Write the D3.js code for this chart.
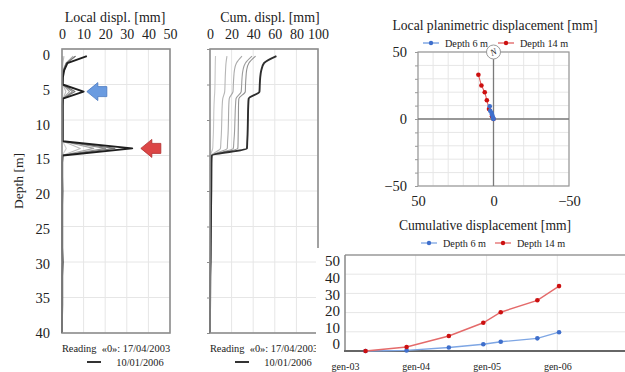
<!DOCTYPE html>
<html>
<head>
<meta charset="utf-8">
<script src="https://cdn.jsdelivr.net/npm/d3@7"></script>
<style>
  body { margin: 0; background: #fff; }
  svg { display: block; fill: #222; }
  svg text { font-family: "Liberation Serif", "Times New Roman", serif; }
  .domain { display: none; }
</style>
</head>
<body>
<svg id="chart" width="625" height="372"></svg>
<script>
// depths of the inclinometer readings [m]
const depths = [1, 2, 3, 4, 5, 6, 7, 8, 10, 12, 13, 14, 15, 16, 18, 20, 22, 24, 26, 28, 30, 32, 34, 36, 38, 40];

// local displacement per reading [mm], one value per depth (reading 0 = 17/04/2003)
const local1 = [0.2, 0.1, 0.1, 0.1, 0.2, 0.4, 0.3, 0.3, 0.3, 0.3, 0.3, 2.0, 0.1, 0.1, 0.0, 0.1, 0.0, 0.1, 0.0, 0.0, 0.1, 0.0, 0.0, 0.0, 0.0, 0.0];
const local2 = [0.9, 0.4, 0.3, 0.2, 0.3, 1.8, 0.5, 0.4, 0.4, 0.4, 0.4, 8.5, 0.2, 0.1, 0.1, 0.1, 0.1, 0.1, 0.1, 0.1, 0.2, 0.1, 0.0, 0.0, 0.0, 0.0];
const local3 = [5.2, 1.8, 0.6, 0.4, 0.3, 3.5, 0.4, 0.3, 0.4, 0.4, 0.3, 14.7, 0.2, 0.1, 0.1, 0.1, 0.1, 0.1, 0.1, 0.1, 0.2, 0.1, 0.1, 0.0, 0.0, 0.0];
const local4 = [6.2, 2.2, 0.8, 0.4, 0.4, 4.8, 0.5, 0.5, 0.5, 0.5, 0.5, 20.2, 0.2, 0.1, 0.1, 0.1, 0.1, 0.1, 0.1, 0.1, 0.2, 0.1, 0.1, 0.1, 0.0, 0.0];
const local5 = [6.3, 2.0, 0.6, 0.4, 0.2, 6.0, 0.3, 0.1, 0.2, 0.1, 0.2, 24.5, 0.2, 0.1, 0.1, 0.1, 0.1, 0.1, 0.1, 0.1, 0.2, 0.1, 0.1, 0.0, 0.0, 0.0];
const local6 = [11.5, 2.5, 1.0, 0.4, 0.3, 10.0, 0.4, 0.3, 0.3, 0.3, 0.3, 32.5, 0.3, 0.1, 0.1, 0.2, 0.1, 0.1, 0.1, 0.1, 0.3, 0.1, 0.1, 0.1, 0.0, 0.0];
const readings = [local1, local2, local3, local4, local5, local6];

const localColors = ['#d2d2d2', '#bdbdbd', '#a6a6a6', '#8e8e8e', '#767676', '#1e1e1e'];
const cumColors = ['#c6c6c6', '#b6b6b6', '#a9a9a9', '#9d9d9d', '#929292', '#2e2e2e'];

// planimetric displacement (x positive to the left, y up) [mm]
const plan6X = [0, 0.1, 0.5, 1.0, 1.3, 2.2, 2.5];
const plan6Y = [0, 0.3, 1.7, 3.4, 4.6, 6.2, 9.5];
const plan14X = [0, 1.0, 3.0, 4.4, 5.8, 8.0, 10.0];
const plan14Y = [0, 2.0, 7.5, 14.0, 20.0, 25.0, 33.0];

// cumulative displacement over time [mm]
const readDates = ['2003-04-17', '2003-11-15', '2004-06-20', '2004-12-15', '2005-03-15', '2005-09-20', '2006-01-10'];
const disp6 = [0, 0.3, 1.8, 3.5, 4.8, 6.6, 9.8];
const disp14 = [0, 2.1, 7.8, 14.7, 20.2, 26.4, 33.8];

const svg = d3.select('#chart');
const gridColor = '#e6e6e6';
const frameColor = '#8c8c8c';

// axis text: serif, dark, custom size
const styleTicks = size => s => {
  s.attr('font-family', null).attr('font-size', null);
  s.selectAll('text').attr('font-size', size).attr('fill', '#222');
};

// ---------- depth profiles ----------
const yD = d3.scaleLinear().domain([0, 40]).range([49, 333]);
const yDLab = d3.scaleLinear().domain([0, 40]).range([55, 333]);
const xL = d3.scaleLinear().domain([0, 50]).range([62, 170]);
const xC = d3.scaleLinear().domain([0, 100]).range([210, 318]);

function profilePanel(x, title, titleX, profiles, colors, curve) {
  const g = svg.append('g');
  const [x0, x1] = x.range();
  g.append('g').selectAll('line').data(x.ticks(5)).join('line')
    .attr('x1', d => x(d)).attr('x2', d => x(d))
    .attr('y1', yD(0)).attr('y2', yD(40))
    .attr('stroke', gridColor);
  g.append('g').selectAll('line').data(yD.ticks(8)).join('line')
    .attr('x1', x0).attr('x2', x1)
    .attr('y1', d => yD(d)).attr('y2', d => yD(d))
    .attr('stroke', gridColor);

  const line = d3.line().curve(curve)
    .x(d => x(d[1])).y(d => yD(d[0]));
  profiles.forEach((p, i) => {
    g.append('path')
      .datum(depths.map((d, j) => [d, p[j]]))
      .attr('fill', 'none')
      .attr('stroke', colors[i])
      .attr('stroke-width', i === profiles.length - 1 ? 1.9 : 1.1)
      .attr('stroke-linejoin', 'round')
      .attr('d', line);
  });

  g.append('rect')
    .attr('x', x0).attr('y', yD(0))
    .attr('width', x1 - x0).attr('height', yD(40) - yD(0))
    .attr('fill', 'none').attr('stroke', frameColor).attr('stroke-width', 1.6);

  g.append('g').attr('transform', `translate(0,${yD(0)})`)
    .call(d3.axisTop(x).ticks(5).tickSize(0).tickPadding(10))
    .call(styleTicks(14));

  g.append('text').attr('x', titleX).attr('y', 17).attr('dy', '0.35em')
    .attr('text-anchor', 'middle').attr('font-size', 14).text(title);

  const cx = (x0 + x1) / 2;
  g.append('text').attr('x', cx).attr('y', 348).attr('dy', '0.35em')
    .attr('text-anchor', 'middle').attr('font-size', 10.4)
    .attr('xml:space', 'preserve').text('Reading  «0»: 17/04/2003');
  g.append('line').attr('x1', cx - 29).attr('x2', cx - 15).attr('y1', 362).attr('y2', 362)
    .attr('stroke', '#333').attr('stroke-width', 2);
  g.append('text').attr('x', cx + 24).attr('y', 362).attr('dy', '0.35em')
    .attr('text-anchor', 'middle').attr('font-size', 10.4).text('10/01/2006');
  return g;
}

const gLocal = profilePanel(xL, 'Local displ. [mm]', 115, readings, localColors, d3.curveLinear);

gLocal.append('g').attr('transform', `translate(${xL(0)},0)`)
  .call(d3.axisLeft(yDLab).tickValues(yD.ticks(8)).tickSize(0).tickPadding(12))
  .call(styleTicks(14.5));

svg.append('text')
  .attr('transform', 'translate(18,181) rotate(-90)')
  .attr('text-anchor', 'middle').attr('dy', '0.35em')
  .attr('font-size', 13.5).text('Depth [m]');

// arrows pointing at the two sliding surfaces
function arrow(tipX, tipY, fill, stroke) {
  const p = d3.path();
  p.moveTo(tipX, tipY);
  p.lineTo(tipX + 11, tipY - 9);
  p.lineTo(tipX + 11, tipY - 5);
  p.lineTo(tipX + 20, tipY - 5);
  p.lineTo(tipX + 20, tipY + 5);
  p.lineTo(tipX + 11, tipY + 5);
  p.lineTo(tipX + 11, tipY + 9);
  p.closePath();
  svg.append('path').attr('d', p.toString())
    .attr('fill', fill).attr('stroke', stroke).attr('stroke-width', 0.8);
}
arrow(xL(11.5), yD(6), '#6a9be0', '#4a78c0');
arrow(xL(36.5), yD(14), '#dc4646', '#b02e2e');

// cumulative profile: sum of local displacements from the bottom up
const cumProfiles = readings.map(p => Array.from(d3.cumsum(p.slice().reverse())).reverse());
const gCum = profilePanel(xC, 'Cum. displ. [mm]', 270, cumProfiles, cumColors, d3.curveMonotoneY);
gCum.append('g').attr('transform', `translate(${xC(0)},0)`)
  .call(d3.axisLeft(yD).ticks(8).tickSize(3).tickFormat(''))
  .call(s => s.selectAll('line').attr('stroke', frameColor));

// ---------- planimetric displacement ----------
const xP = d3.scaleLinear().domain([50, -50]).range([418, 569]);
const yP = d3.scaleLinear().domain([50, -50]).range([52, 186]);
const gP = svg.append('g');
gP.append('g').selectAll('line').data(xP.ticks(10)).join('line')
  .attr('x1', d => xP(d)).attr('x2', d => xP(d)).attr('y1', yP(50)).attr('y2', yP(-50))
  .attr('stroke', gridColor);
gP.append('g').selectAll('line').data(yP.ticks(10)).join('line')
  .attr('x1', xP(50)).attr('x2', xP(-50)).attr('y1', d => yP(d)).attr('y2', d => yP(d))
  .attr('stroke', gridColor);
gP.append('rect')
  .attr('x', xP(50)).attr('y', yP(50))
  .attr('width', xP(-50) - xP(50)).attr('height', yP(-50) - yP(50))
  .attr('fill', 'none').attr('stroke', '#999').attr('stroke-width', 1.2);
gP.append('line').attr('x1', xP(0)).attr('x2', xP(0)).attr('y1', yP(50)).attr('y2', yP(-50))
  .attr('stroke', '#7a7a7a').attr('stroke-width', 1.3);
gP.append('line').attr('x1', xP(50)).attr('x2', xP(-50)).attr('y1', yP(0)).attr('y2', yP(0))
  .attr('stroke', '#7a7a7a').attr('stroke-width', 1.3);
gP.append('g').attr('transform', `translate(${xP(50)},0)`)
  .call(d3.axisLeft(yP).ticks(10).tickSize(3).tickFormat(''))
  .call(s => s.selectAll('line').attr('stroke', '#999'));
gP.append('g').attr('transform', `translate(${xP(50)},0)`)
  .call(d3.axisLeft(yP).tickValues([50, 0, -50]).tickSize(0).tickPadding(11))
  .call(styleTicks(14.5));
gP.append('g').attr('transform', `translate(0,${yP(-50)})`)
  .call(d3.axisBottom(xP).tickValues([50, 0, -50]).tickSize(0).tickPadding(10))
  .call(styleTicks(14.5));

function planSeries(xs, ys, lineColor, dotColor) {
  const pts = xs.map((v, i) => [v, ys[i]]);
  gP.append('path').datum(pts)
    .attr('fill', 'none').attr('stroke', lineColor).attr('stroke-width', 1.1)
    .attr('d', d3.line().x(d => xP(d[0])).y(d => yP(d[1])));
  gP.append('g').selectAll('circle').data(pts).join('circle')
    .attr('cx', d => xP(d[0])).attr('cy', d => yP(d[1])).attr('r', 2.3)
    .attr('fill', dotColor);
}
planSeries(plan14X, plan14Y, '#e06060', '#cc1010');
planSeries(plan6X, plan6Y, '#6f9be0', '#3f6fcc');

// north marker
gP.append('circle').attr('cx', xP(0)).attr('cy', yP(50)).attr('r', 7)
  .attr('fill', '#fff').attr('stroke', '#999').attr('stroke-width', 1);
gP.append('text').attr('x', xP(0)).attr('y', yP(50)).attr('dy', '0.35em')
  .attr('text-anchor', 'middle').attr('font-size', 9).attr('font-style', 'italic')
  .attr('transform', `rotate(-25,${xP(0)},${yP(50)})`).text('N');

svg.append('text').attr('x', 495).attr('y', 25).attr('dy', '0.35em')
  .attr('text-anchor', 'middle').attr('font-size', 13.6)
  .text('Local planimetric displacement [mm]');

function legend(x, y, items) {
  items.forEach(it => {
    svg.append('line').attr('x1', x + it.dx).attr('x2', x + it.dx + 16).attr('y1', y).attr('y2', y)
      .attr('stroke', it.line).attr('stroke-width', 1.3);
    svg.append('circle').attr('cx', x + it.dx + 8).attr('cy', y).attr('r', 2.2).attr('fill', it.dot);
    svg.append('text').attr('x', x + it.dx + 22).attr('y', y).attr('dy', '0.35em')
      .attr('font-size', 10.2).text(it.label);
  });
}
legend(423, 43, [
  { dx: 0, label: 'Depth 6 m', line: '#6f9be0', dot: '#3f6fcc' },
  { dx: 75, label: 'Depth 14 m', line: '#e06060', dot: '#cc1010' }
]);

// ---------- cumulative displacement over time ----------
svg.append('rect').attr('x', 316).attr('y', 248).attr('width', 309).attr('height', 124).attr('fill', '#fff');

const parse = d3.timeParse('%Y-%m-%d');
const xT = d3.scaleTime().domain([new Date(2003, 0, 1), new Date(2007, 0, 1)]).range([345, 628]);
const yT = d3.scaleLinear().domain([0, 50]).range([351, 255]);
const yTLab = d3.scaleLinear().domain([0, 50]).range([344, 261]);
const years = d3.timeYear.range(new Date(2003, 0, 1), new Date(2007, 0, 1));
const gT = svg.append('g');

gT.append('g').selectAll('line').data(years.slice(1)).join('line')
  .attr('x1', d => xT(d)).attr('x2', d => xT(d)).attr('y1', yT(50)).attr('y2', yT(0))
  .attr('stroke', gridColor);
gT.append('g').selectAll('line').data(yT.ticks(5).slice(1, -1)).join('line')
  .attr('x1', xT.range()[0]).attr('x2', 625).attr('y1', d => yT(d)).attr('y2', d => yT(d))
  .attr('stroke', gridColor);
gT.append('line').attr('x1', xT.range()[0]).attr('x2', 625).attr('y1', yT(50)).attr('y2', yT(50))
  .attr('stroke', '#999').attr('stroke-width', 1.3);
gT.append('line').attr('x1', xT.range()[0]).attr('x2', xT.range()[0]).attr('y1', yT(50)).attr('y2', yT(0))
  .attr('stroke', '#888').attr('stroke-width', 1.5);
gT.append('line').attr('x1', xT.range()[0] - 1).attr('x2', 625).attr('y1', yT(0)).attr('y2', yT(0))
  .attr('stroke', '#666').attr('stroke-width', 2);

gT.append('g').attr('transform', `translate(0,${yT(0)})`)
  .call(d3.axisBottom(xT).tickValues(years).tickSize(0).tickPadding(12)
    .tickFormat(d => 'gen-' + d3.timeFormat('%y')(d)))
  .call(styleTicks(10));
gT.append('g').attr('transform', `translate(${xT.range()[0]},0)`)
  .call(d3.axisLeft(yTLab).ticks(5).tickSize(0).tickPadding(5))
  .call(styleTicks(15));

function timeSeries(vals, lineColor, dotColor) {
  const pts = readDates.map((d, i) => [parse(d), vals[i]]);
  gT.append('path').datum(pts)
    .attr('fill', 'none').attr('stroke', lineColor).attr('stroke-width', 1.4)
    .attr('d', d3.line().x(d => xT(d[0])).y(d => yT(d[1])));
  gT.append('g').selectAll('circle').data(pts).join('circle')
    .attr('cx', d => xT(d[0])).attr('cy', d => yT(d[1])).attr('r', 2.3)
    .attr('fill', dotColor);
}
timeSeries(disp6, '#7ea6e4', '#3f6fcc');
timeSeries(disp14, '#e46a6a', '#cc1010');

svg.append('text').attr('x', 485).attr('y', 225).attr('dy', '0.35em')
  .attr('text-anchor', 'middle').attr('font-size', 13.6)
  .text('Cumulative displacement [mm]');
legend(421, 243, [
  { dx: 0, label: 'Depth 6 m', line: '#7ea6e4', dot: '#3f6fcc' },
  { dx: 74, label: 'Depth 14 m', line: '#e46a6a', dot: '#cc1010' }
]);
</script>
</body>
</html>
